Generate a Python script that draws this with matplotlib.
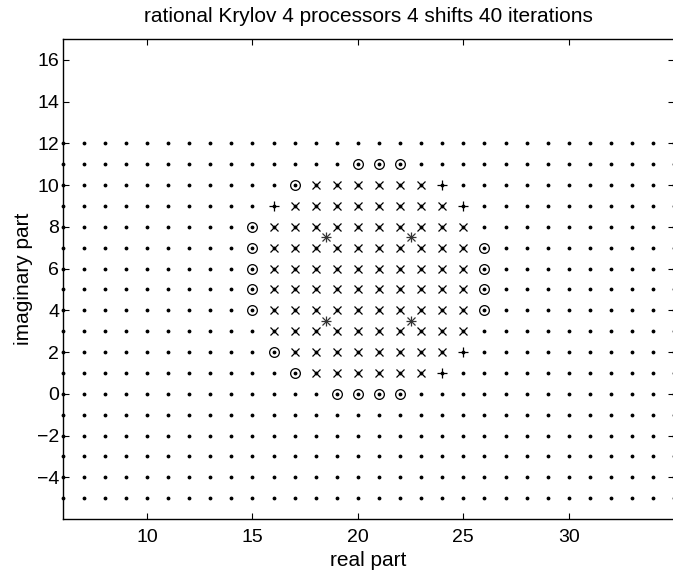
import numpy as np
import matplotlib
matplotlib.use('Agg')
import matplotlib.pyplot as plt

plt.rcParams['font.family'] = ['Liberation Sans', 'DejaVu Sans']

# grid of eigenvalues (dots)
grid_x = np.arange(6, 36)
grid_y = np.arange(-5, 13)

# converged eigenvalues (x), per row: (imag part, first real, last real)
conv_rows = [(10, 18, 23), (9, 17, 24), (8, 16, 25), (7, 16, 25), (6, 16, 25),
             (5, 16, 25), (4, 16, 25), (3, 16, 25), (2, 17, 24), (1, 18, 23)]

# circled eigenvalues
circ_x = [20, 21, 22, 17, 15, 15, 15, 15, 15, 26, 26, 26, 26, 16, 17, 19, 20, 21, 22]
circ_y = [11, 11, 11, 10, 8, 7, 6, 5, 4, 7, 6, 5, 4, 2, 1, 0, 0, 0, 0]

# plus markers
plus_x = [24, 16, 25, 25, 24]
plus_y = [10, 9, 9, 2, 1]

# shifts
shift_x = [18.5, 18.5, 22.5, 22.5]
shift_y = [3.5, 7.5, 3.5, 7.5]

conv_x = []
conv_y = []
for yy, x0, x1 in conv_rows:
    for xx in range(x0, x1 + 1):
        conv_x.append(xx)
        conv_y.append(yy)

gx, gy = np.meshgrid(grid_x, grid_y)

fig = plt.figure(figsize=(6.73, 5.73), dpi=100)
ax = fig.add_axes([62.7 / 673, 54 / 573, 611.5 / 673, 480 / 573])

ax.plot(gx.ravel(), gy.ravel(), '.', color='k', markersize=3.5, clip_on=False)
ax.plot(conv_x, conv_y, 'x', color='k', markersize=6, markeredgewidth=0.9)
ax.plot(circ_x, circ_y, 'o', color='k', markersize=7, markerfacecolor='none', markeredgewidth=0.9)
ax.plot(plus_x, plus_y, '+', color='k', markersize=7, markeredgewidth=0.9)
ax.plot(shift_x, shift_y, '+', color='#333333', markersize=7.5, markeredgewidth=0.9)
ax.plot(shift_x, shift_y, 'x', color='#333333', markersize=6, markeredgewidth=0.9)

ax.set_xlim(6, 35)
ax.set_ylim(-6, 17)
ax.set_xticks([10, 15, 20, 25, 30])
ax.set_yticks(np.arange(-4, 17, 2))
ax.tick_params(direction='in', top=True, right=True, labelsize=14, length=4.5, width=0.8)
ax.tick_params(axis='x', pad=7)
ax.tick_params(axis='y', pad=2.5)
for s in ax.spines.values():
    s.set_linewidth(1.0)

ax.set_title('rational Krylov 4 processors 4 shifts 40 iterations', fontsize=15, pad=12)
ax.set_xlabel('real part', fontsize=15, labelpad=4)
ax.set_ylabel('imaginary part', fontsize=15, labelpad=3)

fig.savefig('out.png', dpi=100)
